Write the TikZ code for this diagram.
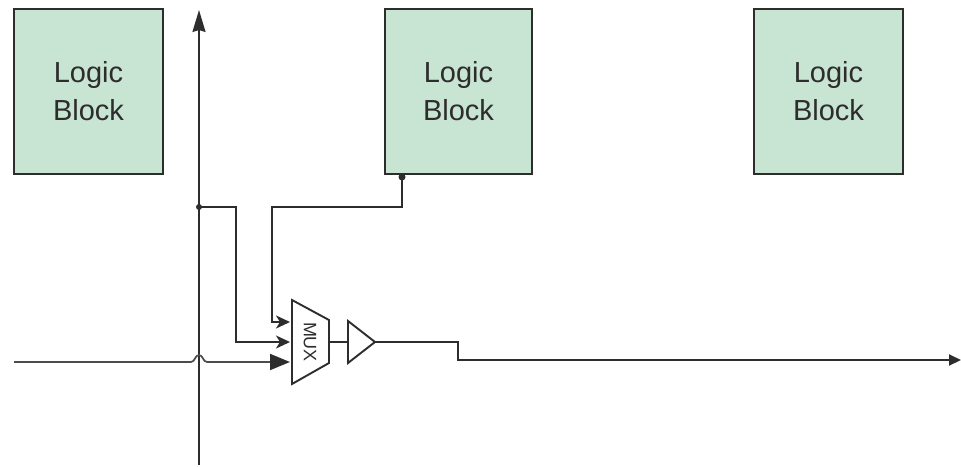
\documentclass[tikz,border=0pt]{standalone}
\usepackage{fontspec}
\setmainfont{Liberation Sans}
\usetikzlibrary{arrows.meta}
\definecolor{blockfill}{RGB}{200,228,210}
\definecolor{ink}{RGB}{45,45,45}
\tikzset{
  logicbox/.style={draw=ink,line width=1.9pt,fill=blockfill,minimum height=165pt,inner sep=0pt,
    align=center,font=\fontsize{29}{38}\selectfont,text=ink},
  wire/.style={draw=ink,line width=1.9pt},
  smalltip/.style={-{Stealth[length=14pt,width=13pt,inset=4pt]}},
  bigtip/.style={-{Stealth[length=20pt,width=16pt,inset=0pt]}},
}
\begin{document}
\begin{tikzpicture}[x=1pt,y=-1pt]
\useasboundingbox (0,0) rectangle (961,466);
\node[logicbox,minimum width=149pt] (b1) at (88.5,91.5) {Logic\\Block};
\node[logicbox,minimum width=147pt] (b2) at (458.5,91.5) {Logic\\Block};
\node[logicbox,minimum width=149pt] (b3) at (828.5,91.5) {Logic\\Block};
% bus
\coordinate (busbot) at (199,465);
\coordinate (bustop) at (199,10);
\draw[wire,-{Stealth[length=22pt,width=13pt,inset=2pt]}] (busbot) -- (bustop);
% mux
\coordinate (m1) at (292,300);
\coordinate (m2) at (329,320);
\coordinate (m3) at (329,363);
\coordinate (m4) at (292,384);
\draw[wire,fill=white] (m1) -- (m2) -- (m3) -- (m4) -- cycle;
\node[rotate=-90,font=\fontsize{18}{18}\selectfont,text=ink,inner sep=0pt] (muxlabel) at (310,342) {MUX};
% buffer
\node[draw=none,inner sep=0pt,minimum size=0pt] (bufin) at (348,342) {};
\coordinate (t1) at (348,321);
\coordinate (t2) at (348,363);
\node[inner sep=0pt,minimum size=0pt] (bufout) at (375,342) {};
\draw[wire,fill=white] (t1) -- (bufout.center) -- (t2) -- cycle;
\draw[wire] (m2 |- bufin) -- (bufin.center);
% junctions
\coordinate (j1) at (199,207);
\fill[ink] (j1) circle (3pt);
\fill[ink] (402,177) circle (3.5pt);
% wires
\draw[wire,smalltip] (j1) -- (236,207) -- (236,342) -- (290,342);
\draw[wire,smalltip] (402,174) -- (402,207) -- (272,207) -- (272,322) -- (290,322);
\coordinate (inp) at (14,362);
\draw[draw=ink!85,line width=1.7pt] (inp) -- (191,362) .. controls (195,362) and (195,355) .. (199,355) .. controls (203,355) and (203,362) .. (207,362) -- (272,362);
\draw[wire,bigtip] (270,362) -- (290,362);
\draw[wire,-{Stealth[length=12pt,width=11pt,inset=0pt]}] (bufout.center) -- (458,342) -- (458,360) -- (961,360);
\end{tikzpicture}
\end{document}
